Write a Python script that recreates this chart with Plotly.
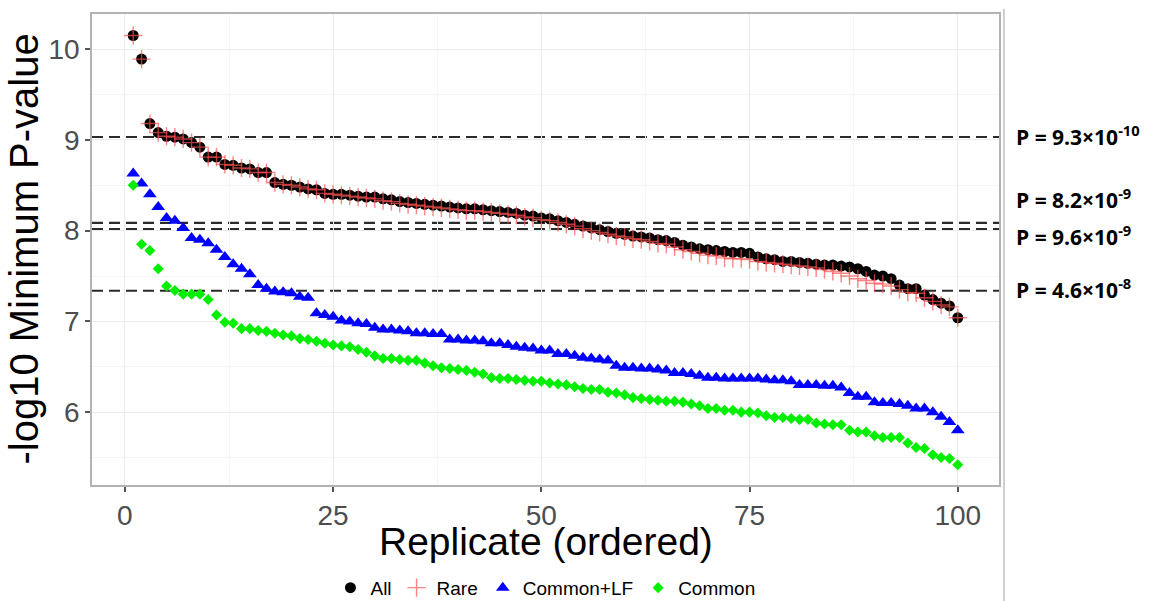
import plotly.graph_objects as go

replicate = list(range(1, 101))

all_vals = [10.15, 9.89, 9.18, 9.08, 9.04, 9.03, 9.01, 8.97, 8.92, 8.81,
            8.81, 8.73, 8.72, 8.69, 8.68, 8.64, 8.64, 8.53, 8.51, 8.50,
            8.48, 8.46, 8.45, 8.41, 8.40, 8.40, 8.39, 8.38, 8.37, 8.37,
            8.35, 8.34, 8.32, 8.31, 8.30, 8.29, 8.28, 8.27, 8.26, 8.25,
            8.24, 8.24, 8.23, 8.22, 8.21, 8.20, 8.19, 8.17, 8.16, 8.14,
            8.13, 8.11, 8.09, 8.07, 8.05, 8.03, 8.01, 7.99, 7.97, 7.96,
            7.94, 7.93, 7.92, 7.90, 7.89, 7.87, 7.84, 7.82, 7.80, 7.79,
            7.78, 7.77, 7.76, 7.76, 7.75, 7.71, 7.69, 7.68, 7.66, 7.66,
            7.65, 7.64, 7.63, 7.62, 7.62, 7.61, 7.60, 7.58, 7.55, 7.51,
            7.50, 7.47, 7.40, 7.36, 7.36, 7.29, 7.24, 7.20, 7.17, 7.04]

rare_vals = [10.15, 9.89, 9.18, 9.08, 9.04, 9.03, 9.01, 8.97, 8.92, 8.81,
             8.81, 8.73, 8.72, 8.69, 8.68, 8.64, 8.64, 8.53, 8.51, 8.50,
             8.48, 8.46, 8.45, 8.41, 8.40, 8.39, 8.38, 8.37, 8.36, 8.35,
             8.33, 8.32, 8.30, 8.29, 8.28, 8.27, 8.26, 8.25, 8.24, 8.23,
             8.22, 8.22, 8.21, 8.20, 8.19, 8.18, 8.17, 8.15, 8.14, 8.12,
             8.11, 8.09, 8.07, 8.05, 8.02, 8.00, 7.98, 7.96, 7.94, 7.93,
             7.91, 7.90, 7.88, 7.86, 7.85, 7.82, 7.79, 7.77, 7.75, 7.73,
             7.72, 7.70, 7.69, 7.69, 7.68, 7.66, 7.65, 7.64, 7.63, 7.62,
             7.61, 7.60, 7.59, 7.57, 7.55, 7.53, 7.50, 7.47, 7.45, 7.42,
             7.41, 7.39, 7.35, 7.32, 7.31, 7.26, 7.22, 7.18, 7.16, 7.04]

commonlf_vals = [8.63, 8.52, 8.40, 8.26, 8.14, 8.11, 8.03, 7.92, 7.90, 7.86,
                 7.79, 7.71, 7.63, 7.58, 7.52, 7.40, 7.36, 7.33, 7.32, 7.31,
                 7.27, 7.26, 7.09, 7.07, 7.05, 7.01, 7.00, 6.98, 6.97, 6.93,
                 6.91, 6.91, 6.90, 6.89, 6.87, 6.87, 6.86, 6.86, 6.80, 6.80,
                 6.79, 6.79, 6.78, 6.76, 6.76, 6.74, 6.72, 6.71, 6.70, 6.68,
                 6.68, 6.64, 6.64, 6.62, 6.60, 6.59, 6.58, 6.57, 6.51, 6.49,
                 6.49, 6.48, 6.48, 6.47, 6.46, 6.43, 6.43, 6.42, 6.40, 6.38,
                 6.38, 6.37, 6.37, 6.37, 6.37, 6.37, 6.36, 6.35, 6.35, 6.34,
                 6.30, 6.30, 6.30, 6.29, 6.29, 6.27, 6.21, 6.17, 6.17, 6.11,
                 6.10, 6.10, 6.09, 6.07, 6.04, 6.04, 6.00, 5.95, 5.89, 5.80]

common_vals = [8.50, 7.85, 7.78, 7.58, 7.39, 7.34, 7.30, 7.30, 7.30, 7.24,
               7.07, 6.99, 6.98, 6.92, 6.92, 6.90, 6.89, 6.87, 6.85, 6.84,
               6.81, 6.80, 6.78, 6.76, 6.74, 6.73, 6.72, 6.69, 6.66, 6.62,
               6.59, 6.59, 6.58, 6.57, 6.57, 6.54, 6.51, 6.49, 6.48, 6.47,
               6.46, 6.44, 6.42, 6.38, 6.37, 6.37, 6.36, 6.35, 6.34, 6.34,
               6.32, 6.31, 6.30, 6.28, 6.26, 6.25, 6.25, 6.22, 6.21, 6.19,
               6.16, 6.15, 6.14, 6.13, 6.12, 6.12, 6.11, 6.09, 6.07, 6.04,
               6.04, 6.02, 6.02, 6.00, 6.00, 5.99, 5.96, 5.94, 5.94, 5.93,
               5.92, 5.92, 5.88, 5.87, 5.86, 5.86, 5.80, 5.78, 5.78, 5.74,
               5.72, 5.72, 5.72, 5.66, 5.61, 5.60, 5.53, 5.50, 5.49, 5.42]

threshold_vals = [9.0315, 8.0862, 8.0177, 7.3372]
threshold_labels = ["P = 9.3×10<sup>-10</sup>", "P = 8.2×10<sup>-9</sup>",
                    "P = 9.6×10<sup>-9</sup>", "P = 4.6×10<sup>-8</sup>"]
label_y = [9.05, 8.35, 7.95, 7.36]

x_ticks = [0, 25, 50, 75, 100]
y_ticks = [6, 7, 8, 9, 10]

fig = go.Figure()
fig.add_trace(go.Scatter(x=replicate, y=all_vals, mode="markers", name="All",
                         marker=dict(symbol="circle", size=11, color="black")))
fig.add_trace(go.Scatter(x=replicate, y=rare_vals, mode="markers", name="Rare",
                         marker=dict(symbol="cross-thin", size=13, color="rgba(255,80,80,0.7)",
                                     line=dict(width=1.4, color="rgba(255,80,80,0.7)"))))
fig.add_trace(go.Scatter(x=replicate, y=commonlf_vals, mode="markers", name="Common+LF",
                         marker=dict(symbol="triangle-up", size=12, color="#0000ff")))
fig.add_trace(go.Scatter(x=replicate, y=common_vals, mode="markers", name="Common",
                         marker=dict(symbol="diamond", size=8.5, color="#00ee00")))

for v in threshold_vals:
    fig.add_shape(type="line", xref="paper", yref="y", x0=0, x1=1, y0=v, y1=v,
                  line=dict(color="#2b2b2b", width=2.2, dash="11px,6px"), layer="between")

for lab, yv in zip(threshold_labels, label_y):
    fig.add_annotation(xref="paper", yref="y", x=1.0165, y=yv, text="<b>" + lab + "</b>",
                       showarrow=False, xanchor="left", yanchor="middle",
                       font=dict(family="Open Sans", size=21, color="black"))

# separator line at right
fig.add_shape(type="line", xref="paper", yref="paper", x0=1.0055, x1=1.0055, y0=-0.26, y1=1.0106,
              line=dict(color="#c0c0c0", width=1.5))

# axis titles
fig.add_annotation(xref="paper", yref="paper", x=0.5, y=-0.121, text="Replicate (ordered)",
                   showarrow=False, xanchor="center", yanchor="middle",
                   font=dict(family="Liberation Sans", size=39, color="black"))
fig.add_annotation(xref="paper", yref="paper", x=-0.076, y=0.5, text="-log10 Minimum P-value",
                   showarrow=False, xanchor="center", yanchor="middle", textangle=-90,
                   font=dict(family="Liberation Sans", size=40, color="black"))

fig.update_layout(
    width=1166, height=601,
    margin=dict(l=92, r=167, t=14, b=116),
    paper_bgcolor="white", plot_bgcolor="white",
    showlegend=True,
    legend=dict(orientation="h", xref="container", yref="container",
                x=0.4678, xanchor="center", y=0.022, yanchor="middle",
                font=dict(family="Liberation Sans", size=19, color="black"),
                itemwidth=30, tracegroupgap=0, borderwidth=0),
    xaxis=dict(range=[-3.95, 104.95], tickvals=x_ticks, ticks="outside", ticklen=5,
               tickcolor="#555555", tickwidth=1.5,
               tickfont=dict(family="Liberation Sans", size=28, color="#4d4d4d"),
               showgrid=True, gridcolor="#ebebeb", gridwidth=1.2,
               minor=dict(tickvals=[12.5, 37.5, 62.5, 87.5], showgrid=True, gridcolor="#f5f5f5", gridwidth=0.8),
               zeroline=False, showline=True, linecolor="#b3b3b3", linewidth=1.5, mirror=True,
               automargin=False),
    yaxis=dict(range=[5.197, 10.387], tickvals=y_ticks, ticks="outside", ticklen=5,
               tickcolor="#555555", tickwidth=1.5,
               tickfont=dict(family="Liberation Sans", size=28, color="#4d4d4d"),
               showgrid=True, gridcolor="#ebebeb", gridwidth=1.2,
               minor=dict(tickvals=[5.5, 6.5, 7.5, 8.5, 9.5], showgrid=True, gridcolor="#f5f5f5", gridwidth=0.8),
               zeroline=False, showline=True, linecolor="#b3b3b3", linewidth=1.5, mirror=True,
               automargin=False),
)

fig.write_html("out.html")
